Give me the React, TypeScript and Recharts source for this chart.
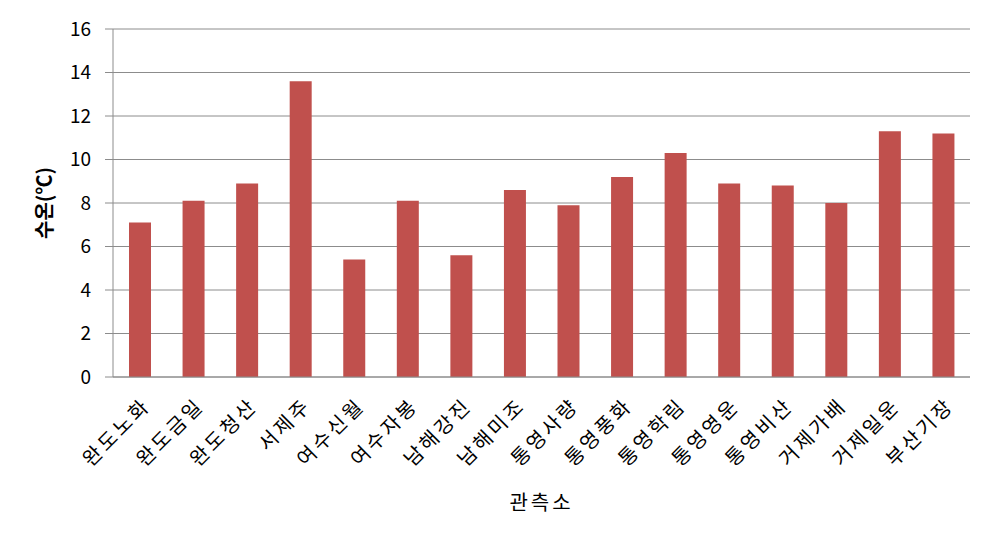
import React from "react";
import { BarChart, Bar, XAxis, YAxis, CartesianGrid, Label } from "recharts";

const stations = [
  "완도노화", "완도금일", "완도청산", "서제주", "여수신월", "여수자봉", "남해강진", "남해미조",
  "통영사량", "통영풍화", "통영학림", "통영영운", "통영비산", "거제가배", "거제일운", "부산기장",
];
const temps = [7.1, 8.1, 8.9, 13.6, 5.4, 8.1, 5.6, 8.6, 7.9, 9.2, 10.3, 8.9, 8.8, 8.0, 11.3, 11.2];
const yTicks = [0, 2, 4, 6, 8, 10, 12, 14, 16];

const data = stations.map((name, i) => ({ name, temp: temps[i] }));

const FONT = "'Noto Sans CJK KR', 'DejaVu Sans', sans-serif";
const GRID = "#8c8c8c";

function StationTick(props: any) {
  const { x, y, payload } = props;
  return (
    <g transform={`translate(${x + 8},${y + 18})`}>
      <text
        transform="rotate(-45)"
        textAnchor="end"
        dominantBaseline="middle"
        fontSize={20}
        letterSpacing={3}
        fill="#000"
        fontFamily={FONT}
      >
        {payload.value}
      </text>
    </g>
  );
}

export default function App() {
  return (
    <div style={{ position: "absolute", left: 0, top: 0, width: 994, height: 545, background: "#fff" }}>
      <BarChart
        width={994}
        height={545}
        data={data}
        margin={{ top: 29, right: 24, bottom: 20, left: 33 }}
        barSize={22}
      >
        <CartesianGrid vertical={false} stroke={GRID} strokeWidth={1} />
        <XAxis
          dataKey="name"
          interval={0}
          height={148}
          tick={<StationTick />}
          tickLine={false}
          axisLine={{ stroke: GRID }}
        >
          <Label
            value="관측소"
            position="insideBottom"
            offset={15}
            style={{ fontSize: 20, fill: "#000", fontFamily: FONT, letterSpacing: 3 }}
          />
        </XAxis>
        <YAxis
          width={80}
          domain={[0, 16]}
          ticks={yTicks}
          interval={0}
          tickSize={8}
          tickMargin={14}
          tickLine={{ stroke: GRID }}
          axisLine={{ stroke: GRID }}
          tick={{ fontSize: 19, fill: "#000", fontFamily: FONT }}
        >
          <Label
            content={(p: any) => {
              const vb = p.viewBox;
              const cx = vb.x + 14;
              const cy = vb.y + vb.height / 2;
              return (
                <text
                  x={cx}
                  y={cy}
                  transform={`rotate(-90, ${cx}, ${cy})`}
                  textAnchor="middle"
                  dominantBaseline="middle"
                  fontSize={20}
                  fontWeight="bold"
                  fill="#000"
                  fontFamily={FONT}
                >
                  수온(℃)
                </text>
              );
            }}
          />
        </YAxis>
        <Bar dataKey="temp" fill="#C0504D" isAnimationActive={false} />
      </BarChart>
    </div>
  );
}
